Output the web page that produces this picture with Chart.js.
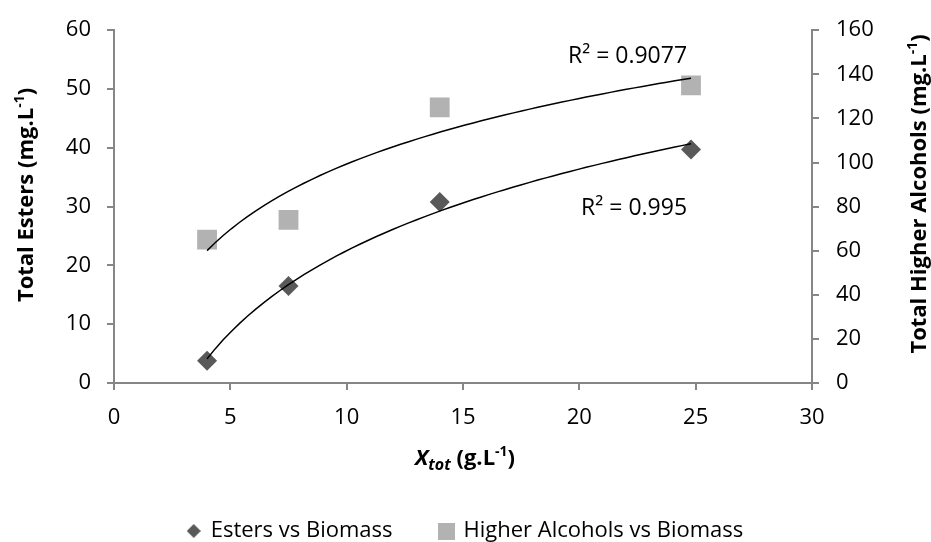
<!DOCTYPE html>
<html>
<head>
<meta charset="utf-8">
<script src="https://cdn.jsdelivr.net/npm/chart.js"></script>
<style>
  html, body { margin: 0; padding: 0; background: #fff; }
  #wrap { width: 931px; height: 542px; }
</style>
</head>
<body>
<div id="wrap"><canvas id="chart" width="931" height="542"></canvas></div>
<script>
// data
const biomass = [4.0, 7.5, 14.0, 24.8];
const esters = [3.8, 16.5, 30.8, 39.7];
const alcohols = [65, 74, 125, 135];
const seriesNames = ['Esters vs Biomass', 'Higher Alcohols vs Biomass'];
const r2Labels = ['R² = 0.995', 'R² = 0.9077'];
const xTicks = [0, 5, 10, 15, 20, 25, 30];

const FONT = "'Open Sans', 'Liberation Sans', sans-serif";
const AXIS = '#868686';
const DARK = '#595959';
const LIGHT = '#B2B2B2';

// log trendline (Excel style): y = a ln(x) + b
function logFit(xs, ys) {
  const lx = xs.map(Math.log);
  const mx = lx.reduce((s, v) => s + v, 0) / lx.length;
  const my = ys.reduce((s, v) => s + v, 0) / ys.length;
  let sxy = 0, sxx = 0;
  lx.forEach((v, i) => { sxy += (v - mx) * (ys[i] - my); sxx += (v - mx) * (v - mx); });
  const a = sxy / sxx, b = my - a * mx;
  const pts = [];
  const x0 = xs[0], x1 = xs[xs.length - 1];
  for (let i = 0; i <= 60; i++) {
    const x = x0 + (x1 - x0) * i / 60;
    pts.push({ x: x, y: a * Math.log(x) + b });
  }
  return pts;
}

const esterPts = biomass.map((x, i) => ({ x: x, y: esters[i] }));
const alcPts = biomass.map((x, i) => ({ x: x, y: alcohols[i] }));

// small legend markers
function marker(shape, size, color) {
  const c = document.createElement('canvas');
  c.width = size; c.height = size;
  const g = c.getContext('2d');
  g.fillStyle = color;
  if (shape === 'diamond') {
    g.beginPath();
    g.moveTo(size / 2, 0); g.lineTo(size, size / 2);
    g.lineTo(size / 2, size); g.lineTo(0, size / 2);
    g.closePath(); g.fill();
  } else {
    g.fillRect(0, 0, size, size);
  }
  return c;
}
const legendMarks = [marker('diamond', 14, DARK), marker('square', 17, LIGHT)];

// legend sits low with a wide gap between items
const legendBox = {
  id: 'legendBox',
  beforeLayout(chart) {
    const lg = chart.legend;
    if (lg && !lg._patched) {
      const fit = lg.fit;
      lg.fit = function () { fit.call(this); this.height = 70; };
      lg._patched = true;
    }
  }
};

// axis titles with sub/superscripts drawn by hand
const titles = {
  id: 'titles',
  afterDraw(chart) {
    const ctx = chart.ctx;
    ctx.save();
    ctx.fillStyle = '#000';
    ctx.textBaseline = 'alphabetic';

    function rich(parts, x, y, align) {
      let w = 0;
      parts.forEach(p => { ctx.font = p[1]; w += ctx.measureText(p[0]).width; });
      let cx = align === 'center' ? x - w / 2 : x;
      parts.forEach(p => {
        ctx.font = p[1];
        ctx.textAlign = 'left';
        ctx.fillText(p[0], cx, y + p[2]);
        cx += ctx.measureText(p[0]).width;
      });
    }
    const B = 'bold 22px ' + FONT;
    const BS = 'bold 14px ' + FONT;
    const BI = 'italic bold 22px ' + FONT;
    const BIS = 'italic bold 16px ' + FONT;

    ctx.save();
    ctx.translate(33, 195);
    ctx.rotate(-Math.PI / 2);
    rich([['Total Esters (mg.L', B, 0], ['-1', BS, -9], [')', B, 0]], 0, 0, 'center');
    ctx.restore();

    ctx.save();
    ctx.translate(926, 194);
    ctx.rotate(-Math.PI / 2);
    rich([['Total Higher Alcohols (mg.L', B, 0], ['-1', BS, -9], [')', B, 0]], 0, 0, 'center');
    ctx.restore();

    rich([['X', BI, 0], ['tot', BIS, 5], [' (g.L', B, 0], ['-1', BS, -9], [')', B, 0]], 465, 465, 'center');

    // R² labels
    ctx.font = '23px ' + FONT;
    ctx.textAlign = 'right';
    const sx = chart.scales.x, sy = chart.scales.y;
    ctx.fillText(r2Labels[1], sx.getPixelForValue(24.63), sy.getPixelForValue(54.5));
    ctx.fillText(r2Labels[0], sx.getPixelForValue(24.63), sy.getPixelForValue(28.6));
    ctx.restore();
  }
};

const tickFont = { family: FONT, size: 22 };

new Chart(document.getElementById('chart'), {
  type: 'scatter',
  data: {
    datasets: [
      {
        label: seriesNames[0],
        data: esterPts,
        yAxisID: 'y',
        pointStyle: 'rectRot',
        pointRadius: 10,
        backgroundColor: DARK,
        borderColor: DARK,
        borderWidth: 0,
        order: 2
      },
      {
        label: seriesNames[1],
        data: alcPts,
        yAxisID: 'y1',
        pointStyle: 'rect',
        pointRadius: 14,
        backgroundColor: LIGHT,
        borderColor: LIGHT,
        borderWidth: 0,
        order: 2
      },
      {
        label: 'trend1',
        type: 'line',
        data: logFit(biomass, esters),
        yAxisID: 'y',
        pointRadius: 0,
        borderColor: '#000',
        borderWidth: 1.5,
        order: 1
      },
      {
        label: 'trend2',
        type: 'line',
        data: logFit(biomass, alcohols),
        yAxisID: 'y1',
        pointRadius: 0,
        borderColor: '#000',
        borderWidth: 1.5,
        order: 1
      }
    ]
  },
  options: {
    responsive: false,
    animation: false,
    layout: { padding: { top: 24, left: 0, right: 0, bottom: 0 } },
    plugins: {
      tooltip: { enabled: false },
      legend: {
        position: 'bottom',
        labels: {
          usePointStyle: true,
          boxWidth: 12,
          boxHeight: 12,
          padding: 48,
          color: '#000',
          font: { family: FONT, size: 22 },
          generateLabels(chart) {
            const items = Chart.defaults.plugins.legend.labels.generateLabels(chart)
              .filter(it => it.datasetIndex < 2)
              .sort((a, b) => a.datasetIndex - b.datasetIndex);
            items.forEach(it => { it.pointStyle = legendMarks[it.datasetIndex]; });
            return items;
          }
        }
      }
    },
    scales: {
      x: {
        type: 'linear',
        min: 0, max: 30,
        afterBuildTicks: s => { s.ticks = xTicks.map(v => ({ value: v })); },
        ticks: { color: '#000', padding: 15, font: tickFont },
        grid: { drawOnChartArea: false, tickLength: 7, color: AXIS, lineWidth: 2 },
        border: { color: AXIS, width: 2 },
        afterFit: s => { s.height = 89; }
      },
      y: {
        position: 'left',
        min: 0, max: 60,
        ticks: { stepSize: 10, color: '#000', padding: 16, font: tickFont },
        grid: { drawOnChartArea: false, tickLength: 7, color: AXIS, lineWidth: 2 },
        border: { color: AXIS, width: 2 },
        afterFit: s => { s.width = 114; }
      },
      y1: {
        position: 'right',
        min: 0, max: 160,
        ticks: { stepSize: 20, color: '#000', padding: 17, font: tickFont },
        grid: { drawOnChartArea: false, tickLength: 7, color: AXIS, lineWidth: 2 },
        border: { color: AXIS, width: 2 },
        afterFit: s => { s.width = 119; }
      }
    }
  },
  plugins: [legendBox, titles]
});
</script>
</body>
</html>
